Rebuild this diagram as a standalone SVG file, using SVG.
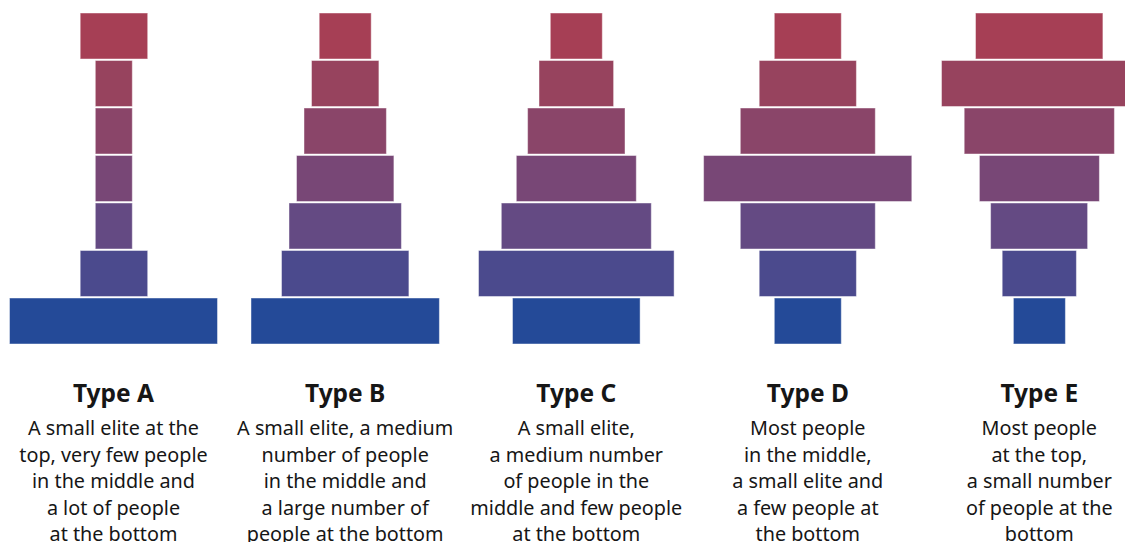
<svg xmlns="http://www.w3.org/2000/svg" width="1125" height="542" viewBox="0 0 1125 542">
  <style>
    .bar { stroke: #ffffff; stroke-opacity: 0.45; stroke-width: 1; }
    .r1 { fill: #a63f55; }
    .r2 { fill: #97435e; }
    .r3 { fill: #8a4569; }
    .r4 { fill: #784776; }
    .r5 { fill: #644a83; }
    .r6 { fill: #4b4a8d; }
    .r7 { fill: #244a98; }
    .title { font-family: "Noto Sans", "Liberation Sans", sans-serif; font-weight: 700; font-size: 24.5px; fill: #161616; text-anchor: middle; }
    .desc { font-family: "Noto Sans", "Liberation Sans", sans-serif; font-size: 19.8px; fill: #161616; text-anchor: middle; }
  </style>
  <rect width="1125" height="542" fill="#ffffff"/>

  <!-- Type A: narrow column on a wide base -->
  <g id="type-a">
    <rect class="bar r1" x="80.2" y="13" width="67.5" height="46"/>
    <rect class="bar r2" x="95.3" y="60.5" width="37" height="46"/>
    <rect class="bar r3" x="95.3" y="108" width="37" height="46"/>
    <rect class="bar r4" x="95.3" y="155.5" width="37" height="46"/>
    <rect class="bar r5" x="95.3" y="203" width="37" height="46"/>
    <rect class="bar r6" x="80.2" y="250.5" width="67.5" height="46"/>
    <rect class="bar r7" x="9.5" y="298" width="208" height="46"/>
    <text class="title" x="113.5" y="402">Type A</text>
    <text class="desc" x="113.5" y="435">A small elite at the</text>
    <text class="desc" x="113.5" y="461.5">top, very few people</text>
    <text class="desc" x="113.5" y="488">in the middle and</text>
    <text class="desc" x="113.5" y="514.5">a lot of people</text>
    <text class="desc" x="113.5" y="541">at the bottom</text>
  </g>

  <!-- Type B: steady pyramid -->
  <g id="type-b">
    <rect class="bar r1" x="319.2" y="13" width="52" height="46"/>
    <rect class="bar r2" x="311.5" y="60.5" width="67.4" height="46"/>
    <rect class="bar r3" x="304" y="108" width="82.4" height="46"/>
    <rect class="bar r4" x="296.5" y="155.5" width="97.4" height="46"/>
    <rect class="bar r5" x="289" y="203" width="112.4" height="46"/>
    <rect class="bar r6" x="281.5" y="250.5" width="127.4" height="46"/>
    <rect class="bar r7" x="251" y="298" width="188.4" height="46"/>
    <text class="title" x="345.2" y="402">Type B</text>
    <text class="desc" x="345.2" y="435">A small elite, a medium</text>
    <text class="desc" x="345.2" y="461.5">number of people</text>
    <text class="desc" x="345.2" y="488">in the middle and</text>
    <text class="desc" x="345.2" y="514.5">a large number of</text>
    <text class="desc" x="345.2" y="541">people at the bottom</text>
  </g>

  <!-- Type C: pyramid with a narrower base -->
  <g id="type-c">
    <rect class="bar r1" x="550.3" y="13" width="52" height="46"/>
    <rect class="bar r2" x="539" y="60.5" width="74.6" height="46"/>
    <rect class="bar r3" x="527.6" y="108" width="97.4" height="46"/>
    <rect class="bar r4" x="516.3" y="155.5" width="120" height="46"/>
    <rect class="bar r5" x="501.3" y="203" width="150" height="46"/>
    <rect class="bar r6" x="478.5" y="250.5" width="195.6" height="46"/>
    <rect class="bar r7" x="512.5" y="298" width="127.6" height="46"/>
    <text class="title" x="576.3" y="402">Type C</text>
    <text class="desc" x="576.3" y="435">A small elite,</text>
    <text class="desc" x="576.3" y="461.5">a medium number</text>
    <text class="desc" x="576.3" y="488">of people in the</text>
    <text class="desc" x="576.3" y="514.5">middle and few people</text>
    <text class="desc" x="576.3" y="541">at the bottom</text>
  </g>

  <!-- Type D: diamond, widest in the middle -->
  <g id="type-d">
    <rect class="bar r1" x="774.3" y="13" width="67" height="46"/>
    <rect class="bar r2" x="759.2" y="60.5" width="97.2" height="46"/>
    <rect class="bar r3" x="740.3" y="108" width="135" height="46"/>
    <rect class="bar r4" x="703.6" y="155.5" width="208.2" height="46"/>
    <rect class="bar r5" x="740.3" y="203" width="135" height="46"/>
    <rect class="bar r6" x="759.2" y="250.5" width="97.2" height="46"/>
    <rect class="bar r7" x="774.3" y="298" width="67" height="46"/>
    <text class="title" x="807.8" y="402">Type D</text>
    <text class="desc" x="807.8" y="435">Most people</text>
    <text class="desc" x="807.8" y="461.5">in the middle,</text>
    <text class="desc" x="807.8" y="488">a small elite and</text>
    <text class="desc" x="807.8" y="514.5">a few people at</text>
    <text class="desc" x="807.8" y="541">the bottom</text>
  </g>

  <!-- Type E: inverted pyramid -->
  <g id="type-e">
    <rect class="bar r1" x="975.5" y="13" width="127.4" height="46"/>
    <rect class="bar r2" x="941.5" y="60.5" width="195.6" height="46"/>
    <rect class="bar r3" x="964.2" y="108" width="150.2" height="46"/>
    <rect class="bar r4" x="979.4" y="155.5" width="120" height="46"/>
    <rect class="bar r5" x="990.6" y="203" width="97" height="46"/>
    <rect class="bar r6" x="1002.2" y="250.5" width="74.2" height="46"/>
    <rect class="bar r7" x="1013.4" y="298" width="52" height="46"/>
    <text class="title" x="1039.3" y="402">Type E</text>
    <text class="desc" x="1039.3" y="435">Most people</text>
    <text class="desc" x="1039.3" y="461.5">at the top,</text>
    <text class="desc" x="1039.3" y="488">a small number</text>
    <text class="desc" x="1039.3" y="514.5">of people at the</text>
    <text class="desc" x="1039.3" y="541">bottom</text>
  </g>
</svg>
